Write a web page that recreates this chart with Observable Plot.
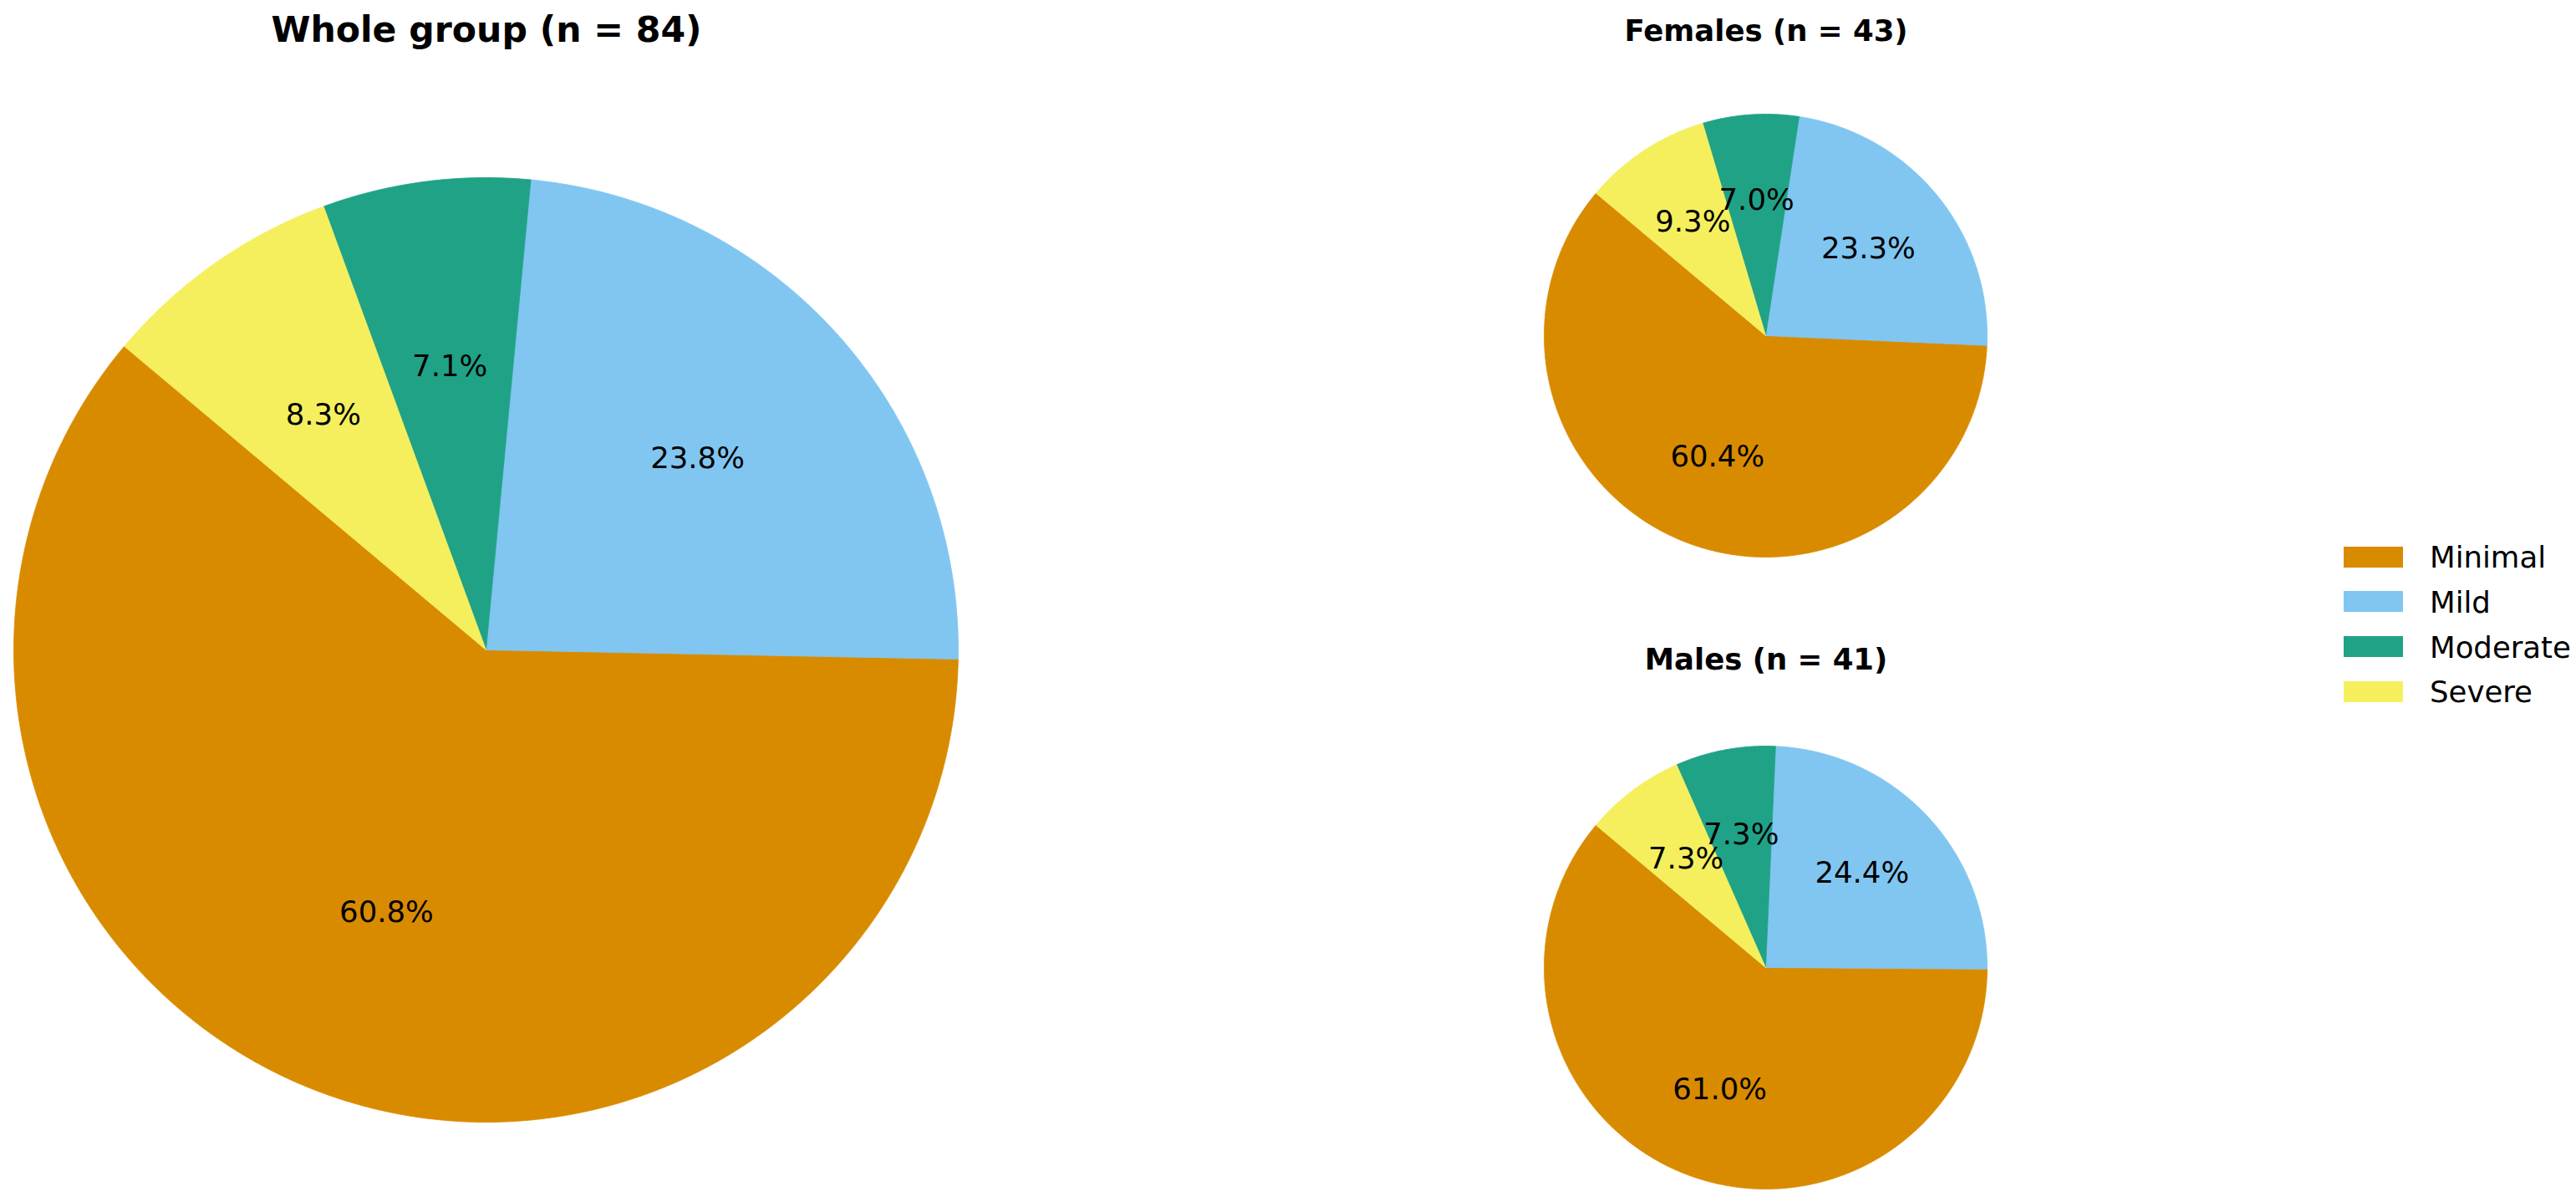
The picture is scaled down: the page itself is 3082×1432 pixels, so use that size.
<!DOCTYPE html>
<html>
<head>
<meta charset="utf-8">
<script src="https://cdn.jsdelivr.net/npm/d3@7"></script>
<script src="https://cdn.jsdelivr.net/npm/@observablehq/plot@0.6"></script>
<style>
  html, body { margin: 0; padding: 0; background: #fff; }
  #fig { position: relative; width: 3082px; height: 1432px; background: #fff; overflow: hidden;
         font-family: "DejaVu Sans", sans-serif; color: #000; }
  .abs { position: absolute; }
  .title { position: absolute; font-weight: bold; white-space: nowrap; line-height: 1; transform: translateX(-50%); }
  .leg-row { position: absolute; display: flex; align-items: center; white-space: nowrap; }
  .leg-sw { display: inline-block; }
  svg { overflow: visible; }
</style>
</head>
<body>
<div id="fig"></div>
<script>
// ---- data ----
const categories = ["Minimal", "Mild", "Moderate", "Severe"];
const colors = ["#D98B00", "#80C6F1", "#20A287", "#F5EF5E"];
const wholeValues = [60.8, 23.8, 7.1, 8.3];
const femaleValues = [60.4, 23.3, 7.0, 9.3];
const maleValues = [61.0, 24.4, 7.3, 7.3];
const panelTitles = ["Whole group (n = 84)", "Females (n = 43)", "Males (n = 41)"];

// ---- layout ----
const startAngle = 140;      // degrees, counterclockwise like matplotlib
const labelDistance = 0.6;
const labelFont = 35.5;
const fig = document.getElementById("fig");

function piePlot(values, r) {
  const total = d3.sum(values);
  const pts = [];
  const labels = [];
  let a = startAngle;
  values.forEach((v, i) => {
    const span = v / total * 360;
    const a0 = a, a1 = a + span;
    const cat = categories[i];
    pts.push({cat, x: 0, y: 0});
    const n = Math.max(2, Math.ceil(span / 0.25));
    for (let k = 0; k <= n; k++) {
      const t = (a0 + (a1 - a0) * k / n) * Math.PI / 180;
      pts.push({cat, x: Math.cos(t), y: Math.sin(t)});
    }
    pts.push({cat, x: 0, y: 0});
    const m = (a0 + a1) / 2 * Math.PI / 180;
    labels.push({cat, x: labelDistance * Math.cos(m), y: labelDistance * Math.sin(m), text: v.toFixed(1) + "%"});
    a = a1;
  });
  const size = 2 * r + 4;
  return Plot.plot({
    width: size, height: size, margin: 2,
    style: {fontFamily: "DejaVu Sans, sans-serif", background: "transparent", overflow: "visible"},
    x: {domain: [-1, 1], axis: null},
    y: {domain: [-1, 1], axis: null},
    color: {domain: categories, range: colors, type: "ordinal"},
    marks: [
      Plot.line(pts, {x: "x", y: "y", z: "cat", fill: "cat", stroke: "cat", strokeWidth: 0.8, curve: "linear"}),
      Plot.text(labels, {x: "x", y: "y", text: "text", fontSize: labelFont, fill: "#000", textAnchor: "middle", lineAnchor: "middle", dy: -3})
    ]
  });
}

function place(node, cx, cy, r) {
  const d = document.createElement("div");
  d.className = "abs";
  d.style.left = (cx - r - 2) + "px";
  d.style.top = (cy - r - 2) + "px";
  d.style.width = (2 * r + 4) + "px";
  d.style.height = (2 * r + 4) + "px";
  d.appendChild(node);
  fig.appendChild(d);
}

function title(text, cx, capMid, fs) {
  const t = document.createElement("div");
  t.className = "title";
  t.textContent = text;
  t.style.fontSize = fs + "px";
  t.style.left = cx + "px";
  t.style.top = (capMid - 0.48 * fs) + "px";
  fig.appendChild(t);
}

place(piePlot(wholeValues, 565), 581, 776.5, 565);
place(piePlot(femaleValues, 265), 2112, 401, 265);
place(piePlot(maleValues, 265), 2112, 1157, 265);

title(panelTitles[0], 582, 34, 42.6);
title(panelTitles[1], 2113, 36, 35.5);
title(panelTitles[2], 2113, 788, 35.5);

// legend
const legX = 2804, legY0 = 666, legStep = 53.7;
categories.forEach((c, i) => {
  const row = document.createElement("div");
  row.className = "leg-row";
  row.style.left = legX + "px";
  row.style.top = (legY0 + i * legStep - 20) + "px";
  row.style.height = "40px";
  const sw = document.createElement("span");
  sw.className = "leg-sw";
  sw.style.width = "71px";
  sw.style.height = "25px";
  sw.style.background = colors[i];
  const tx = document.createElement("span");
  tx.textContent = c;
  tx.style.fontSize = labelFont + "px";
  tx.style.marginLeft = "32px";
  tx.style.lineHeight = "1";
  tx.style.position = "relative";
  tx.style.top = "1px";
  row.appendChild(sw);
  row.appendChild(tx);
  fig.appendChild(row);
});
</script>
</body>
</html>
